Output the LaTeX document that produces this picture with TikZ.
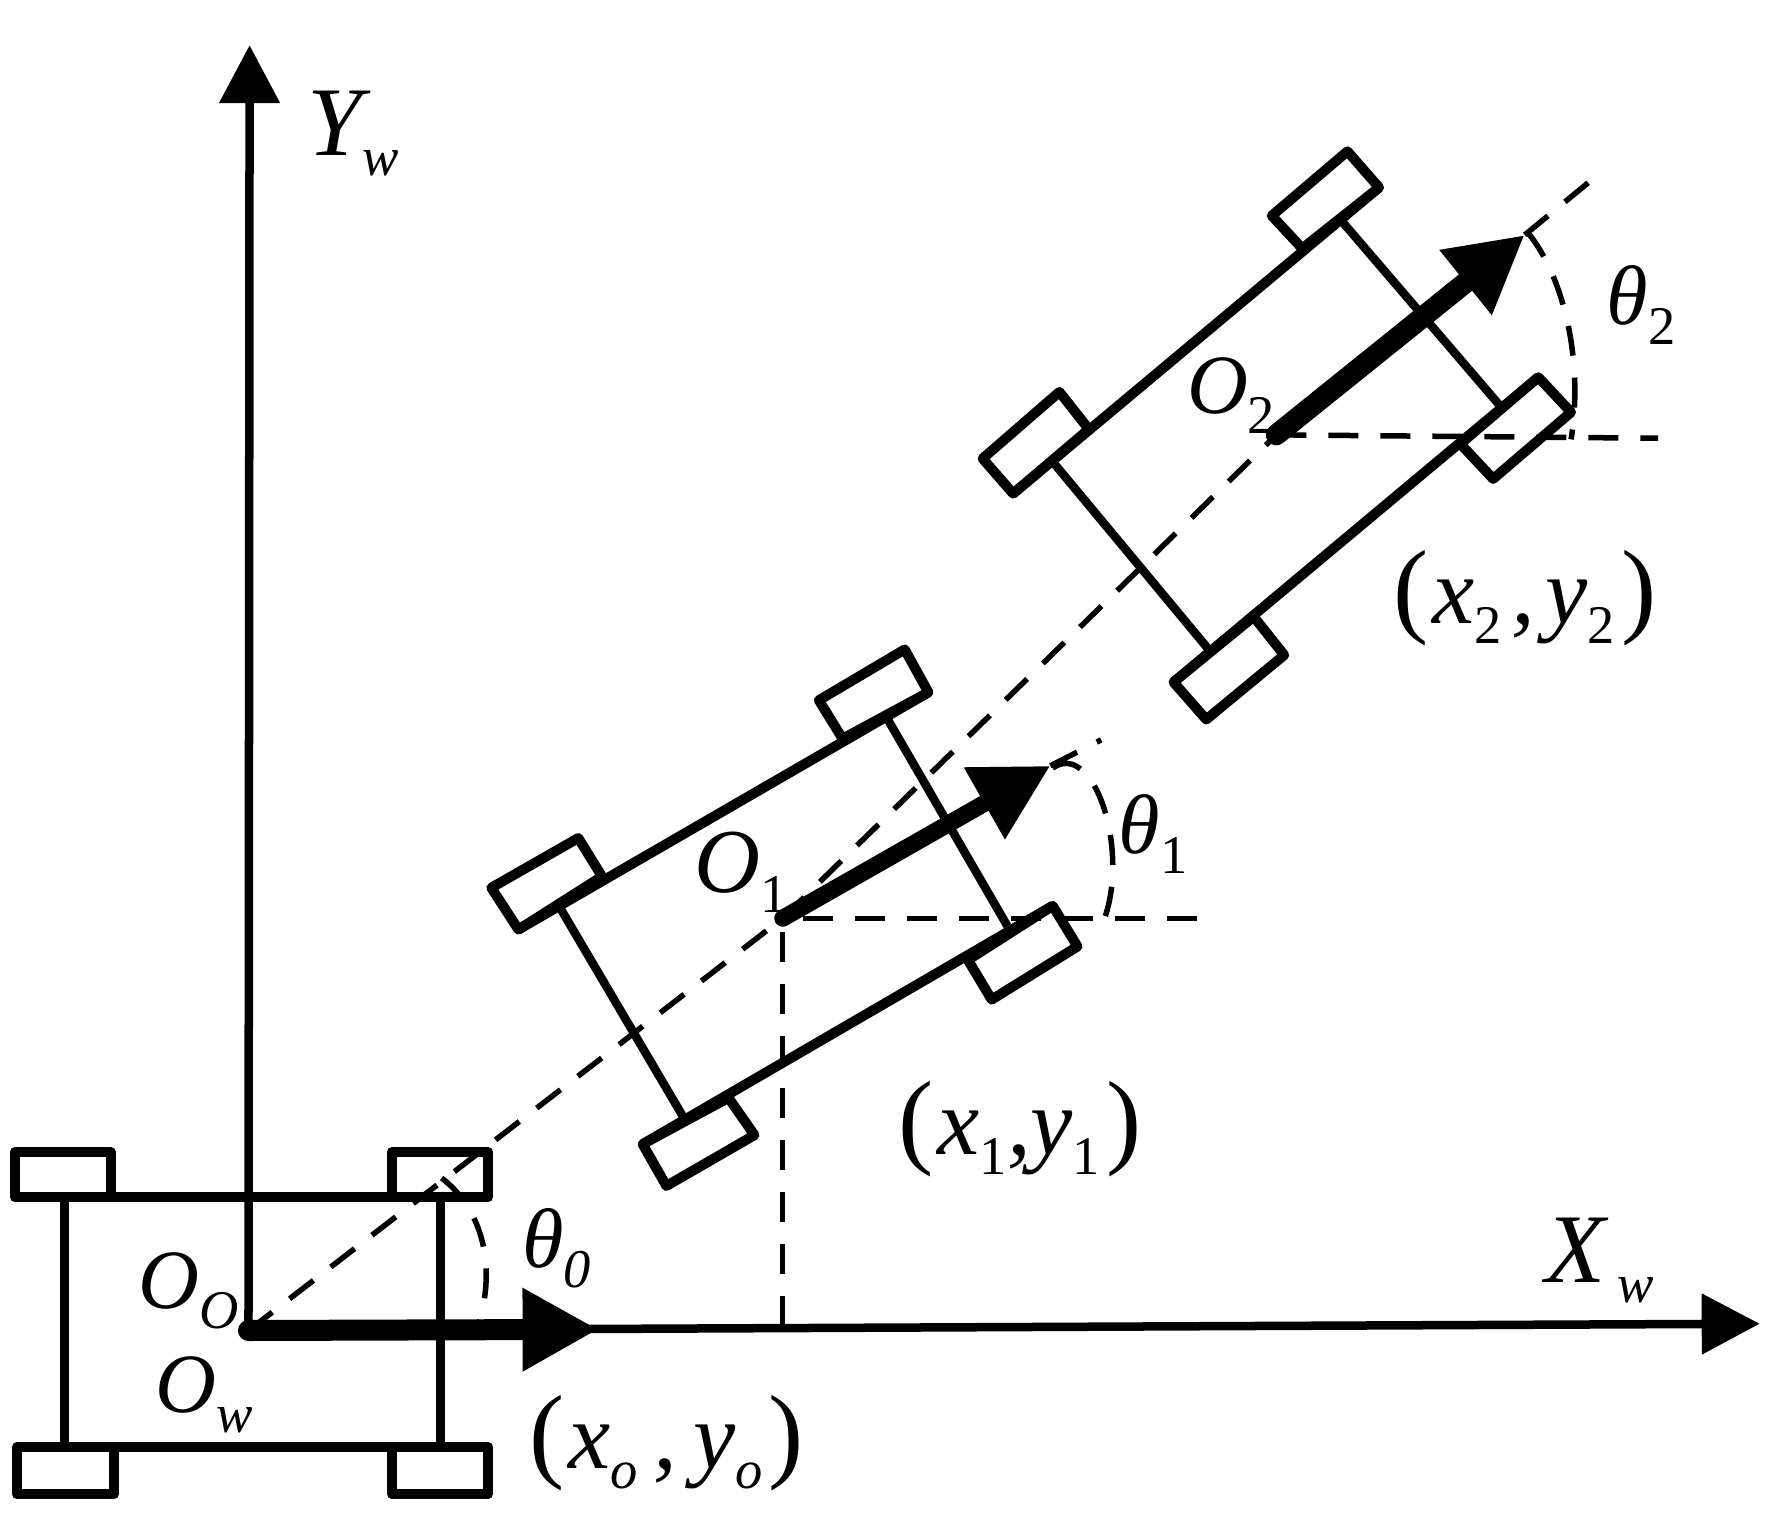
\documentclass[tikz,border=0pt]{standalone}
\usepackage{fontspec}
\setmainfont{Liberation Serif}
\usetikzlibrary{arrows.meta}
\tikzset{
  axisline/.style={line width=0.85mm, -{Triangle[length=5.8mm, width=5.9mm]}},
  headingvec/.style={line width=2.1mm, line cap=round, -{Triangle[length=7.6mm, width=7.8mm]}},
  carline/.style={line width=0.85mm},
  wheelbox/.style={line width=1mm, line join=round},
  refline/.style={line width=0.55mm, dash pattern=on 3mm off 2.2mm},
  tag/.style={inner sep=0pt, font=\fontsize{24}{24}\selectfont\itshape},
  axistag/.style={tag, font=\fontsize{28}{28}\selectfont\itshape},
  postag/.style={tag, font=\fontsize{27}{27}\selectfont\itshape}
}
\newcommand{\low}[1]{\raisebox{-2mm}{\fontsize{15.5}{16}\selectfont #1}}
\newcommand{\pospair}[4]{{\upshape\fontsize{30}{30}\selectfont(}\hspace{0.4mm}#1\low{#2}\hspace{#4},\hspace{#4}#3\low{#2}\hspace{0.6mm}{\upshape\fontsize{30}{30}\selectfont)}}

\begin{document}
\begin{tikzpicture}[x=0.011295cm, y=-0.011295cm]
\useasboundingbox (0,0) rectangle (1568,1356);
\coordinate (oo) at (220,1178);
\coordinate (o1) at (693,813);
\coordinate (o2) at (1130,385);
\coordinate (tip0) at (530,1177);
\coordinate (tip1) at (930,678);
\coordinate (tip2) at (1350,208);
\coordinate (yend) at (221,40);
\coordinate (xend) at (1558,1172);
% reference lines
\coordinate (far1) at (975,655);
\coordinate (far2) at (1412,157);
\coordinate (h1) at (1060,813);
\coordinate (h2) at (1468,388);
\coordinate (foot1) at (693,1174);
\draw[refline] (oo)--(o1);
\draw[refline] (o1)--(o2);
\draw[refline] (tip2)--(far2);
\draw[refline] (tip1)--(far1);
\draw[refline] (h1)--(o1);
\draw[refline] (foot1)--(o1);
\draw[refline] (o2)--(h2);
% angle arcs
\draw[refline] (391,1043) .. controls (420,1065) and (442,1110) .. (424,1172);
\draw[refline] (932,680) .. controls (968,655) and (1000,750) .. (978,813);
\draw[refline] (1352,205) .. controls (1385,245) and (1402,320) .. (1391,389);
% axes
\draw[axisline] (oo)--(yend);
\draw[axisline] (oo)--(xend);
% car at the origin
\draw[carline] (57,1060)--(57,1281);
\draw[carline] (390,1060)--(390,1281);
\draw[wheelbox] (13,1020) rectangle (98,1060);
\draw[wheelbox] (347,1020) rectangle (432,1060);
\draw[wheelbox] (15,1281) rectangle (101,1323);
\draw[wheelbox] (347,1281) rectangle (432,1323);
\draw[wheelbox] (98,1060)--(347,1060);
\draw[wheelbox] (101,1281)--(347,1281);
\draw[headingvec] (oo)--(tip0);
% first car
\draw[wheelbox] (459,823)--(822,613);
\draw[wheelbox] (569,1013)--(932,802);
\draw[carline] (496,804)--(605,989);
\draw[carline] (786,637)--(892,820);
\draw[wheelbox] (435,786)--(512,742)--(533,776)--(459,823)--cycle;
\draw[wheelbox] (725,620)--(801,575)--(822,613)--(746,654)--cycle;
\draw[wheelbox] (857,850)--(932,802)--(954,838)--(878,885)--cycle;
\draw[wheelbox] (569,1013)--(645,972)--(668,1005)--(590,1050)--cycle;
\draw[headingvec, line width=1.7mm] (o1)--(tip1);
% second car
\draw[wheelbox] (897,437)--(1221,166);
\draw[wheelbox] (1039,604)--(1362,334);
\draw[carline] (933,410)--(1071,576);
\draw[carline] (1189,197)--(1327,358);
\draw[wheelbox] (870,406)--(938,347)--(964,380)--(897,437)--cycle;
\draw[wheelbox] (1126,191)--(1193,134)--(1221,166)--(1153,220)--cycle;
\draw[wheelbox] (1293,393)--(1362,334)--(1391,365)--(1322,424)--cycle;
\draw[wheelbox] (1039,604)--(1110,546)--(1137,580)--(1068,637)--cycle;
\draw[headingvec] (o2)--(tip2);
% labels
\node[axistag] (yw) at (313,118) {Y\low{w}};
\node[axistag] (xw) at (1416,1116) {X\hspace{1.2mm}\low{w}};
\node[tag] (oorigin) at (167,1143) {O\low{O}};
\node[tag] (ow) at (181,1235) {O\low{w}};
\node[tag] (t0) at (493,1105) {θ\low{0}};
\node[postag] (pos0) at (590,1278) {\pospair{x}{o}{y}{1.6mm}};
\node[tag, font=\fontsize{26}{26}\selectfont\itshape] (lo1) at (656,772) {O\low{\upshape 1}};
\node[tag] (t1) at (1021,738) {θ\low{\upshape 1}};
\node[postag] (pos1) at (903,1000) {\pospair{x}{\upshape 1}{y}{0mm}};
\node[tag] (lo2) at (1090,350) {O\low{\upshape 2}};
\node[tag] (t2) at (1453,270) {θ\low{\upshape 2}};
\node[postag] (pos2) at (1350,530) {\pospair{x}{\upshape 2}{y}{1mm}};
\end{tikzpicture}
\end{document}
